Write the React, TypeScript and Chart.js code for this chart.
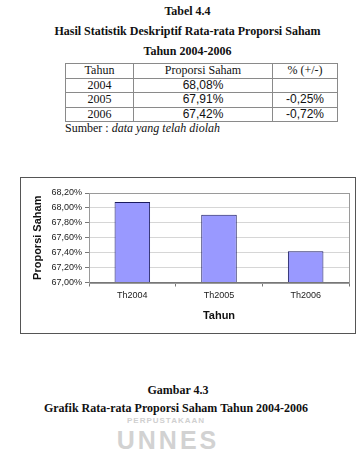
import React, { useEffect, useRef } from "react";
import { Chart, registerables } from "chart.js";

Chart.register(...registerables);

const categories = ["Th2004", "Th2005", "Th2006"];
const proporsi = [68.08, 67.91, 67.42];
const tableYears = ["2004", "2005", "2006"];
const tableValues = ["68,08%", "67,91%", "67,42%"];
const tableChanges = ["", "-0,25%", "-0,72%"];

const serif = "'Liberation Serif', 'Times New Roman', serif";
const sans = "'Liberation Sans', Arial, sans-serif";

const plotBorder = {
  id: "plotBorder",
  beforeDatasetsDraw(chart: any) {
    const { ctx, chartArea } = chart;
    ctx.save();
    ctx.strokeStyle = "#9a9a9a";
    ctx.lineWidth = 1;
    ctx.strokeRect(
      Math.round(chartArea.left) + 0.5,
      Math.round(chartArea.top) + 0.5,
      Math.round(chartArea.right - chartArea.left),
      Math.round(chartArea.bottom - chartArea.top)
    );
    ctx.restore();
  },
};

function BarChart() {
  const ref = useRef<HTMLCanvasElement | null>(null);
  useEffect(() => {
    if (!ref.current) return;
    const chart = new Chart(ref.current, {
      type: "bar",
      data: {
        labels: categories,
        datasets: [
          {
            data: proporsi,
            base: 67,
            backgroundColor: "#9999ff",
            borderColor: "#1a1a5e",
            borderWidth: 1,
            barPercentage: 0.41,
            categoryPercentage: 1,
          } as any,
        ],
      },
      options: {
        animation: false,
        responsive: false,
        maintainAspectRatio: false,
        layout: { padding: { top: 15, right: 6, left: 0, bottom: 0 } },
        plugins: { legend: { display: false }, tooltip: { enabled: false } },
        scales: {
          x: {
            offset: true,
            grid: {
              offset: true,
              drawOnChartArea: false,
              drawTicks: true,
              tickLength: 4,
              color: "#777",
            },
            border: { color: "#777" },
            ticks: {
              font: { family: sans, size: 9 },
              color: "#222",
              padding: 4,
              maxRotation: 0,
            },
            title: {
              display: true,
              text: "Tahun",
              font: { family: sans, size: 11, weight: "bold" },
              color: "#111",
              padding: { top: 0, bottom: 10.4 },
            },
            afterFit(scale: any) {
              scale.height = 50.5;
            },
          },
          y: {
            min: 67,
            max: 68.2,
            grid: {
              color: "#d6d6d6",
              tickLength: 4,
              tickColor: "#777",
            },
            border: { color: "#777" },
            ticks: {
              stepSize: 0.2,
              font: { family: sans, size: 9 },
              color: "#222",
              padding: 3,
              callback: (v: any) => Number(v).toFixed(2).replace(".", ",") + "%",
            },
            title: {
              display: true,
              text: "Proporsi Saham",
              font: { family: sans, size: 11, weight: "bold" },
              color: "#111",
              padding: { top: 10.4, bottom: 0 },
            },
            afterFit(scale: any) {
              scale.width = 68;
            },
          },
        },
      },
      plugins: [plotBorder],
    });
    return () => chart.destroy();
  }, []);
  return <canvas ref={ref} width={334} height={155} style={{ display: "block", width: 334, height: 155 }} />;
}

function cellStyle(family: string): React.CSSProperties {
  return {
    border: "1px solid #8a8a8a",
    padding: 0,
    font: `12px ${family}`,
    height: 13.5,
    lineHeight: "13.5px",
    textAlign: "center",
  };
}

export default function App() {
  return (
    <div
      style={{
        position: "absolute",
        left: 0,
        top: 0,
        width: 359,
        height: 462,
        background: "#fff",
        overflow: "hidden",
        color: "#111",
      }}
    >
      <div style={{ position: "absolute", left: 0, width: 375, top: 4, textAlign: "center", font: `bold 12px ${serif}` }}>
        Tabel 4.4
      </div>
      <div style={{ position: "absolute", left: 0, width: 375, top: 24, textAlign: "center", font: `bold 12px ${serif}` }}>
        Hasil Statistik Deskriptif Rata-rata Proporsi Saham
      </div>
      <div style={{ position: "absolute", left: 0, width: 375, top: 44, textAlign: "center", font: `bold 12px ${serif}` }}>
        Tahun 2004-2006
      </div>
      <table
        style={{
          position: "absolute",
          left: 65,
          top: 63,
          width: 273,
          borderCollapse: "collapse",
          tableLayout: "fixed",
        }}
      >
        <colgroup>
          <col style={{ width: 68 }} />
          <col style={{ width: 139 }} />
          <col style={{ width: 65 }} />
        </colgroup>
        <tbody>
          <tr>
            <td style={cellStyle(serif)}>Tahun</td>
            <td style={cellStyle(serif)}>Proporsi Saham</td>
            <td style={cellStyle(serif)}>% (+/-)</td>
          </tr>
          {tableYears.map((y, i) => (
            <tr key={y}>
              <td style={cellStyle(serif)}>{y}</td>
              <td style={cellStyle(sans)}>{tableValues[i]}</td>
              <td style={cellStyle(sans)}>{tableChanges[i]}</td>
            </tr>
          ))}
        </tbody>
      </table>
      <div style={{ position: "absolute", left: 65, top: 121, font: `12px ${serif}` }}>
        Sumber : <i>data yang telah diolah</i>
      </div>

      <div
        style={{
          position: "absolute",
          left: 20,
          top: 177,
          width: 336,
          height: 157,
          border: "1px solid #555",
          boxSizing: "border-box",
          background: "#fff",
        }}
      >
        <BarChart />
      </div>

      <div style={{ position: "absolute", left: 0, width: 336, top: 426, textAlign: "center", font: `bold 25px/28px ${sans}`, color: "#d2d2d2", letterSpacing: 3 }}>
        UNNES
      </div>
      <div style={{ position: "absolute", left: 0, width: 332, top: 416, textAlign: "center", font: `bold 8px/10px ${sans}`, color: "#d0d0d0", letterSpacing: 1 }}>
        PERPUSTAKAAN
      </div>
      <div style={{ position: "absolute", left: 0, width: 356, top: 382, textAlign: "center", font: `bold 12px/16px ${serif}` }}>
        Gambar 4.3
      </div>
      <div style={{ position: "absolute", left: 0, width: 352, top: 400, textAlign: "center", font: `bold 12px/16px ${serif}` }}>
        Grafik Rata-rata Proporsi Saham Tahun 2004-2006
      </div>
    </div>
  );
}
